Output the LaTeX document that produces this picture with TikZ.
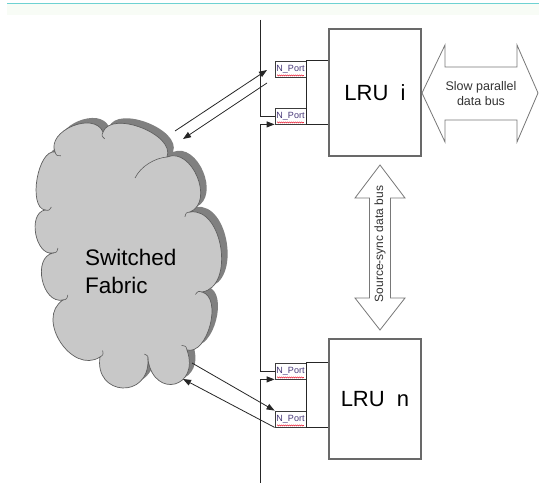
\documentclass[tikz,border=0pt]{standalone}
\usepackage{fontspec}
\setmainfont{Liberation Sans}
\usetikzlibrary{arrows.meta,calc,decorations.pathmorphing}
\definecolor{cloudfill}{RGB}{200,200,200}
\definecolor{cloudshadow}{RGB}{128,128,128}
\definecolor{cloudline}{RGB}{95,95,95}
\definecolor{boxline}{RGB}{105,105,105}
\definecolor{portline}{RGB}{60,60,60}
\definecolor{porttext}{RGB}{70,55,120}
\definecolor{topline}{RGB}{110,210,210}
\definecolor{topband}{RGB}{248,252,246}
\definecolor{busline}{RGB}{120,120,120}
\begin{document}
\begin{tikzpicture}[x=1pt,y=-1pt,
  lru/.style={draw=boxline, line width=1.1pt, minimum width=92pt, minimum height=127pt, inner sep=0pt, font=\fontsize{22}{26}\selectfont},
  port/.style={draw=portline, line width=0.8pt, fill=white, minimum width=31pt, minimum height=16pt, inner sep=0pt, text=porttext, font=\fontsize{9}{10}\selectfont},
  conn/.style={draw=black!85, line width=0.8pt},
  arr/.style={conn, -{Triangle[length=8pt,width=6pt]}},
  bigarrow/.style={draw=busline, fill=white, line width=0.8pt},
  squiggle/.style={draw=red!60!purple, line width=0.4pt, decorate, decoration={snake, amplitude=0.6pt, segment length=2pt}},
  lobe/.style n args={4}{insert path={.. controls ($(#1)!#3!#4:(#2)$) and ($(#2)!#3!-#4:(#1)$) .. (#2)}},
  hook/.style n args={2}{insert path={(#1) .. controls ($(#1)!4pt!-90:(#2)$) .. ($(#1)!7pt!-55:(#2)$)}}
]
\useasboundingbox (0,0) rectangle (539,487);
\fill[white] (0,0) rectangle (539,487);
\fill[topband] (7,4.5) rectangle (539,15);
\draw[topline, line width=1.5pt] (7,3.5) -- (539,3.5);

% cloud
\coordinate (N1) at (45,210);
\coordinate (N2) at (55,152);
\coordinate (N3) at (103,132);
\coordinate (N4) at (167,157);
\coordinate (N5) at (190,212);
\coordinate (N6) at (202,292);
\coordinate (N7) at (187,350);
\coordinate (N8) at (148,360);
\coordinate (N9) at (100,357);
\coordinate (N10) at (63,300);
\coordinate (N11) at (53,253);
\path[draw=cloudline, line width=0.7pt, fill=cloudfill,
      preaction={fill=cloudshadow, transform canvas={shift={(6pt,5pt)}}}]
  (N1) [lobe={N1}{N2}{17.5pt}{90}] [lobe={N2}{N3}{23pt}{90}] [lobe={N3}{N4}{24pt}{90}]
  [lobe={N4}{N5}{27pt}{90}] [lobe={N5}{N6}{33.5pt}{90}] [lobe={N6}{N7}{21.5pt}{90}]
  [lobe={N7}{N8}{40pt}{95}] [lobe={N8}{N9}{39.5pt}{95}] [lobe={N9}{N10}{33.5pt}{90}]
  [lobe={N10}{N11}{21.5pt}{90}] [lobe={N11}{N1}{18pt}{90}] -- cycle;
\draw[cloudline, line width=0.6pt]
  [hook={N1}{N2}] [hook={N2}{N3}] [hook={N3}{N4}] [hook={N5}{N6}] [hook={N6}{N7}]
  [hook={N7}{N8}] [hook={N8}{N9}] [hook={N9}{N10}] [hook={N10}{N11}] [hook={N11}{N1}];
\draw[cloudline, line width=0.6pt] (N4) .. controls (155,158) and (141,166) .. (135,178);
\node[anchor=west, align=left, inner sep=0pt, font=\fontsize{22.5}{28}\selectfont] (fabric) at (85,271) {Switched\\Fabric};

% LRU boxes
\node[lru] (lrui) at (375,92.5) {LRU~~i};
\node[lru, minimum height=120pt] (lrun) at (375,399) {LRU~~n};

% ports
\node[port] (p1) at (290.5,69) {N\_Port};
\node[port] (p2) at (290.5,116) {N\_Port};
\node[port] (p3) at (290.5,371) {N\_Port};
\node[port] (p4) at (290.5,419) {N\_Port};
\foreach \p in {p1,p2,p3,p4} {
  \draw[squiggle] ($(\p.south west)+(2.5,-2)$) -- ($(\p.south east)+(-2.5,-2)$);
}

% port to LRU links
\draw[conn] (p1.north east) -- (p1.north east -| lrui.west);
\draw[conn] (p2.south east) -- (p2.south east -| lrui.west);
\draw[conn] (p1.north east) -- (p2.south east);
\draw[conn] (p3.north east) -- (p3.north east -| lrun.west);
\draw[conn] (p4.south east) -- (p4.south east -| lrun.west);
\draw[conn] (p3.north east) -- (p4.south east);

% bus
\coordinate (bustop) at (260,20);
\coordinate (busbot) at (260,483);
\draw[conn] (bustop) |- (p2.west);
\draw[conn] (p2.south west -| bustop) |- (p3.west);
\draw[arr] (p2.south west -| bustop) -- (p2.south west);
\draw[arr] (p3.south west -| bustop) -- (p3.south west);
\draw[conn] (p3.south west -| bustop) -- (busbot);

% fabric links
\coordinate (a1) at (175,131);
\coordinate (a2) at (267,70);
\coordinate (b1) at (267,83);
\coordinate (b2) at (183,139);
\coordinate (c1) at (192,363);
\coordinate (d2) at (183,379);
\draw[arr] (a1) -- (a2);
\draw[arr] (b1) -- (b2);
\draw[arr] (c1) -- (p4.north west);
\draw[arr] (p4.south west) -- (d2);

% slow parallel bus
\draw[bigarrow] (422,93) -- (445,45) -- (445,67) -- (517,67) -- (517,45) -- (538,93)
  -- (517,142) -- (517,120) -- (445,120) -- (445,142) -- cycle;
\node[align=center, text=black!80, font=\fontsize{12.5}{15}\selectfont] (slowtxt) at (481,93.5) {Slow parallel\\data bus};

% source-sync bus
\draw[bigarrow] (380,165) -- (405,198) -- (390.5,198) -- (390.5,298) -- (405,298) -- (380,330)
  -- (355,298) -- (369.5,298) -- (369.5,198) -- (355,198) -- cycle;
\node[rotate=90, text=black!80, font=\fontsize{12}{14}\selectfont] (synctxt) at (380,244) {Source-sync data bus};
\end{tikzpicture}
\end{document}
